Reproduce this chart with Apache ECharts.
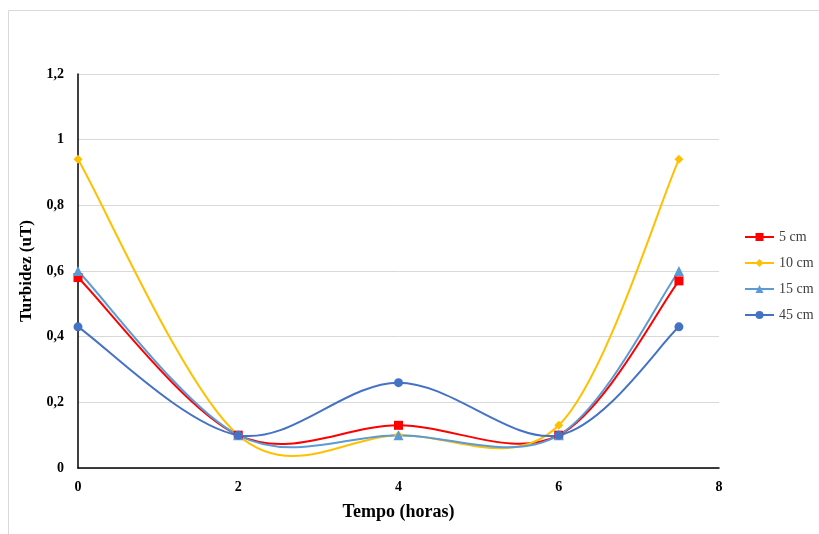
<!DOCTYPE html>
<html><head><meta charset="utf-8">
<script src="https://cdn.jsdelivr.net/npm/echarts@6/dist/echarts.min.js"></script>
<style>html,body{margin:0;padding:0;background:#fff}#c{width:819px;height:534px}</style>
</head><body><div id="c"></div>
<script>
const xValues = [0, 2, 4, 6, 7.5];
const s5 = [0.58, 0.10, 0.13, 0.10, 0.57];
const s10 = [0.94, 0.10, 0.10, 0.13, 0.94];
const s15 = [0.60, 0.10, 0.10, 0.10, 0.60];
const s45 = [0.43, 0.10, 0.26, 0.10, 0.43];
const seriesNames = ['5 cm', '10 cm', '15 cm', '45 cm'];
const colors = ['#FF0000', '#FFC000', '#5B9BD5', '#4472C4'];
const symbols = ['rect', 'diamond', 'triangle', 'circle'];
const sizes = [9, 9, 10, 9];
const allData = [s5, s10, s15, s45];

const chart = echarts.init(document.getElementById('c'));
const font = 'Liberation Serif, Times New Roman, serif';
const pairs = arr => xValues.map((x, i) => [x, arr[i]]);

// Excel-like smoothed line (Catmull-Rom style bezier) through the data points, positioned by the axes
function curveSeries(arr, color) {
  const data = pairs(arr);
  return {
    type: 'custom', silent: true, z: 1,
    encode: { x: 0, y: 1 },
    data,
    renderItem: (params, api) => {
      if (params.dataIndex !== 0) return null;
      const p = data.map(d => api.coord(d));
      const n = p.length, children = [];
      for (let i = 0; i < n - 1; i++) {
        const p0 = p[Math.max(i - 1, 0)], p1 = p[i], p2 = p[i + 1], p3 = p[Math.min(i + 2, n - 1)];
        children.push({
          type: 'bezierCurve',
          shape: {
            x1: p1[0], y1: p1[1], x2: p2[0], y2: p2[1],
            cpx1: p1[0] + (p2[0] - p0[0]) / 6, cpy1: p1[1] + (p2[1] - p0[1]) / 6,
            cpx2: p2[0] - (p3[0] - p1[0]) / 6, cpy2: p2[1] - (p3[1] - p1[1]) / 6
          },
          style: { fill: null, stroke: color, lineWidth: 2 }
        });
      }
      return { type: 'group', children };
    }
  };
}
function markerSeries(i) {
  return {
    name: seriesNames[i], type: 'line', data: pairs(allData[i]), z: 3,
    symbol: symbols[i], symbolSize: sizes[i],
    lineStyle: { color: colors[i], width: 2, opacity: 0 }, itemStyle: { color: colors[i] },
    emphasis: { disabled: true }
  };
}
const series = [];
allData.forEach((a, i) => series.push(curveSeries(a, colors[i])));
allData.forEach((a, i) => series.push(markerSeries(i)));

chart.setOption({
  animation: false,
  backgroundColor: '#fff',
  graphic: [{ type: 'rect', shape: { x: 8.5, y: 10.5, width: 830, height: 540 },
    style: { fill: 'none', stroke: '#d9d9d9', lineWidth: 1 } }],
  grid: { left: 78, right: 100, top: 74, bottom: 66 },
  legend: {
    orient: 'vertical', left: 739, top: 225, itemGap: 12, itemWidth: 29, itemHeight: 10,
    textStyle: { fontFamily: font, fontSize: 14, color: '#404040' },
    data: seriesNames.map((n, i) => ({ name: n, lineStyle: { color: colors[i], width: 2, opacity: 1 } }))
  },
  xAxis: {
    type: 'value', min: 0, max: 8, interval: 2,
    name: 'Tempo (horas)', nameLocation: 'middle', nameGap: 35,
    nameTextStyle: { fontFamily: font, fontSize: 18, fontWeight: 'bold', color: '#000' },
    axisLine: { show: true, lineStyle: { color: '#000', width: 1.5 } },
    axisTick: { show: false },
    axisLabel: { fontFamily: font, fontSize: 14, fontWeight: 'bold', color: '#000', margin: 12 },
    splitLine: { show: false }
  },
  yAxis: {
    type: 'value', min: 0, max: 1.2, interval: 0.2,
    name: 'Turbidez (uT)', nameLocation: 'middle', nameGap: 38,
    nameTextStyle: { fontFamily: font, fontSize: 17, fontWeight: 'bold', color: '#000' },
    axisLine: { show: true, lineStyle: { color: '#000', width: 1.5 } },
    axisTick: { show: false },
    axisLabel: { fontFamily: font, fontSize: 14, fontWeight: 'bold', color: '#000', margin: 14,
      formatter: v => String(+v.toFixed(1)).replace('.', ',') },
    splitLine: { lineStyle: { color: '#d9d9d9', width: 1 } }
  },
  series
});
</script></body></html>
